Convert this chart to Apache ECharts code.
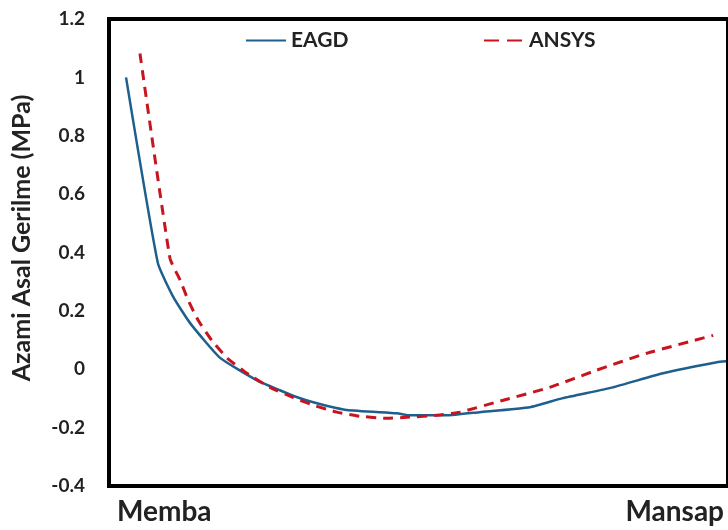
<!DOCTYPE html>
<html>
<head>
<meta charset="utf-8">
<script src="https://cdn.jsdelivr.net/npm/echarts@6/dist/echarts.min.js"></script>
<style>
html,body{margin:0;padding:0;background:#fff;}
#chart{width:728px;height:530px;}
</style>
</head>
<body>
<div id="chart"></div>
<script>
// Position along the section (0 = Memba, 100 = Mansap)
var eagdX = [2.75, 7.9, 10.4, 13.1, 17.9, 23.9, 27.6, 30.4, 33.0, 38.4, 46.5, 48.6, 54.6, 59.9, 68.0, 73.3, 81.4, 89.5, 98.2, 99.7];
var eagdY = [1.0, 0.363, 0.247, 0.158, 0.04, -0.038, -0.072, -0.096, -0.113, -0.140, -0.151, -0.158, -0.158, -0.147, -0.130, -0.099, -0.062, -0.014, 0.024, 0.027];
var ansysX = [5.0, 9.85, 11.5, 12.8, 14.4, 16.6, 19.1, 22.3, 26.0, 29.7, 33.0, 36.8, 40.5, 44.9, 48.6, 53.0, 56.7, 63.7, 71.2, 78.8, 86.9, 97.6];
var ansysY = [1.082, 0.38, 0.305, 0.236, 0.168, 0.099, 0.038, -0.014, -0.062, -0.096, -0.123, -0.147, -0.161, -0.168, -0.164, -0.158, -0.147, -0.106, -0.062, -0.003, 0.055, 0.116];
var seriesNames = ['EAGD', 'ANSYS'];
var yTitle = 'Azami Asal Gerilme (MPa)';
var xEndLabels = ['Memba', 'Mansap'];

function pairs(xs, ys) { return xs.map(function (x, i) { return [x, ys[i]]; }); }

var FONT = 'Lato';
var legendText = {fontFamily: FONT, fontWeight: 'bold', fontSize: 21, color: '#222'};
var chart = echarts.init(document.getElementById('chart'), null, {renderer: 'canvas'});
chart.setOption({
  animation: false,
  backgroundColor: '#ffffff',
  grid: {left: 109, top: 19, bottom: 44, right: -1, show: true, borderColor: '#000', borderWidth: 4, backgroundColor: 'transparent'},
  legend: [
    {data: [seriesNames[0]], left: 245, top: 30, padding: 0, itemWidth: 40, itemHeight: 20, itemGap: 0,
     itemStyle: {opacity: 0}, textStyle: legendText},
    {data: [seriesNames[1]], left: 483, top: 30, padding: 0, itemWidth: 40, itemHeight: 20, itemGap: 0,
     itemStyle: {opacity: 0}, lineStyle: {type: [15, 8]}, textStyle: legendText}
  ],
  xAxis: {type: 'value', min: 0, max: 100, axisLine: {show: false}, axisTick: {show: false},
          axisLabel: {show: false}, splitLine: {show: false}},
  yAxis: {type: 'value', min: -0.4, max: 1.2, interval: 0.2,
          axisLine: {show: false}, axisTick: {show: false}, splitLine: {show: false},
          axisLabel: {margin: 24, fontFamily: FONT, fontWeight: 'bold', fontSize: 19, color: '#222',
                      formatter: function (v) { return String(+v.toFixed(1)); }}},
  graphic: [
    {type: 'text', x: 22, y: 238, rotation: Math.PI / 2,
     style: {text: yTitle, fontFamily: FONT, fontWeight: 'bold', fontSize: 25, fill: '#222', align: 'center', verticalAlign: 'middle'}},
    {type: 'text', left: 117, top: 498,
     style: {text: xEndLabels[0], fontFamily: FONT, fontWeight: 'bold', fontSize: 28, fill: '#222'}},
    {type: 'text', right: 4, top: 498,
     style: {text: xEndLabels[1], fontFamily: FONT, fontWeight: 'bold', fontSize: 28, fill: '#222'}}
  ],
  series: [
    {name: seriesNames[0], type: 'line', data: pairs(eagdX, eagdY), showSymbol: false, symbol: 'none',
     smooth: 0.15, lineStyle: {color: '#1d5f8e', width: 2.5}, itemStyle: {color: '#1d5f8e'}},
    {name: seriesNames[1], type: 'line', data: pairs(ansysX, ansysY), showSymbol: false, symbol: 'none',
     smooth: 0.15, lineStyle: {color: '#c8141e', width: 3, type: [10, 7]}, itemStyle: {color: '#c8141e'}}
  ]
});
</script>
</body>
</html>
